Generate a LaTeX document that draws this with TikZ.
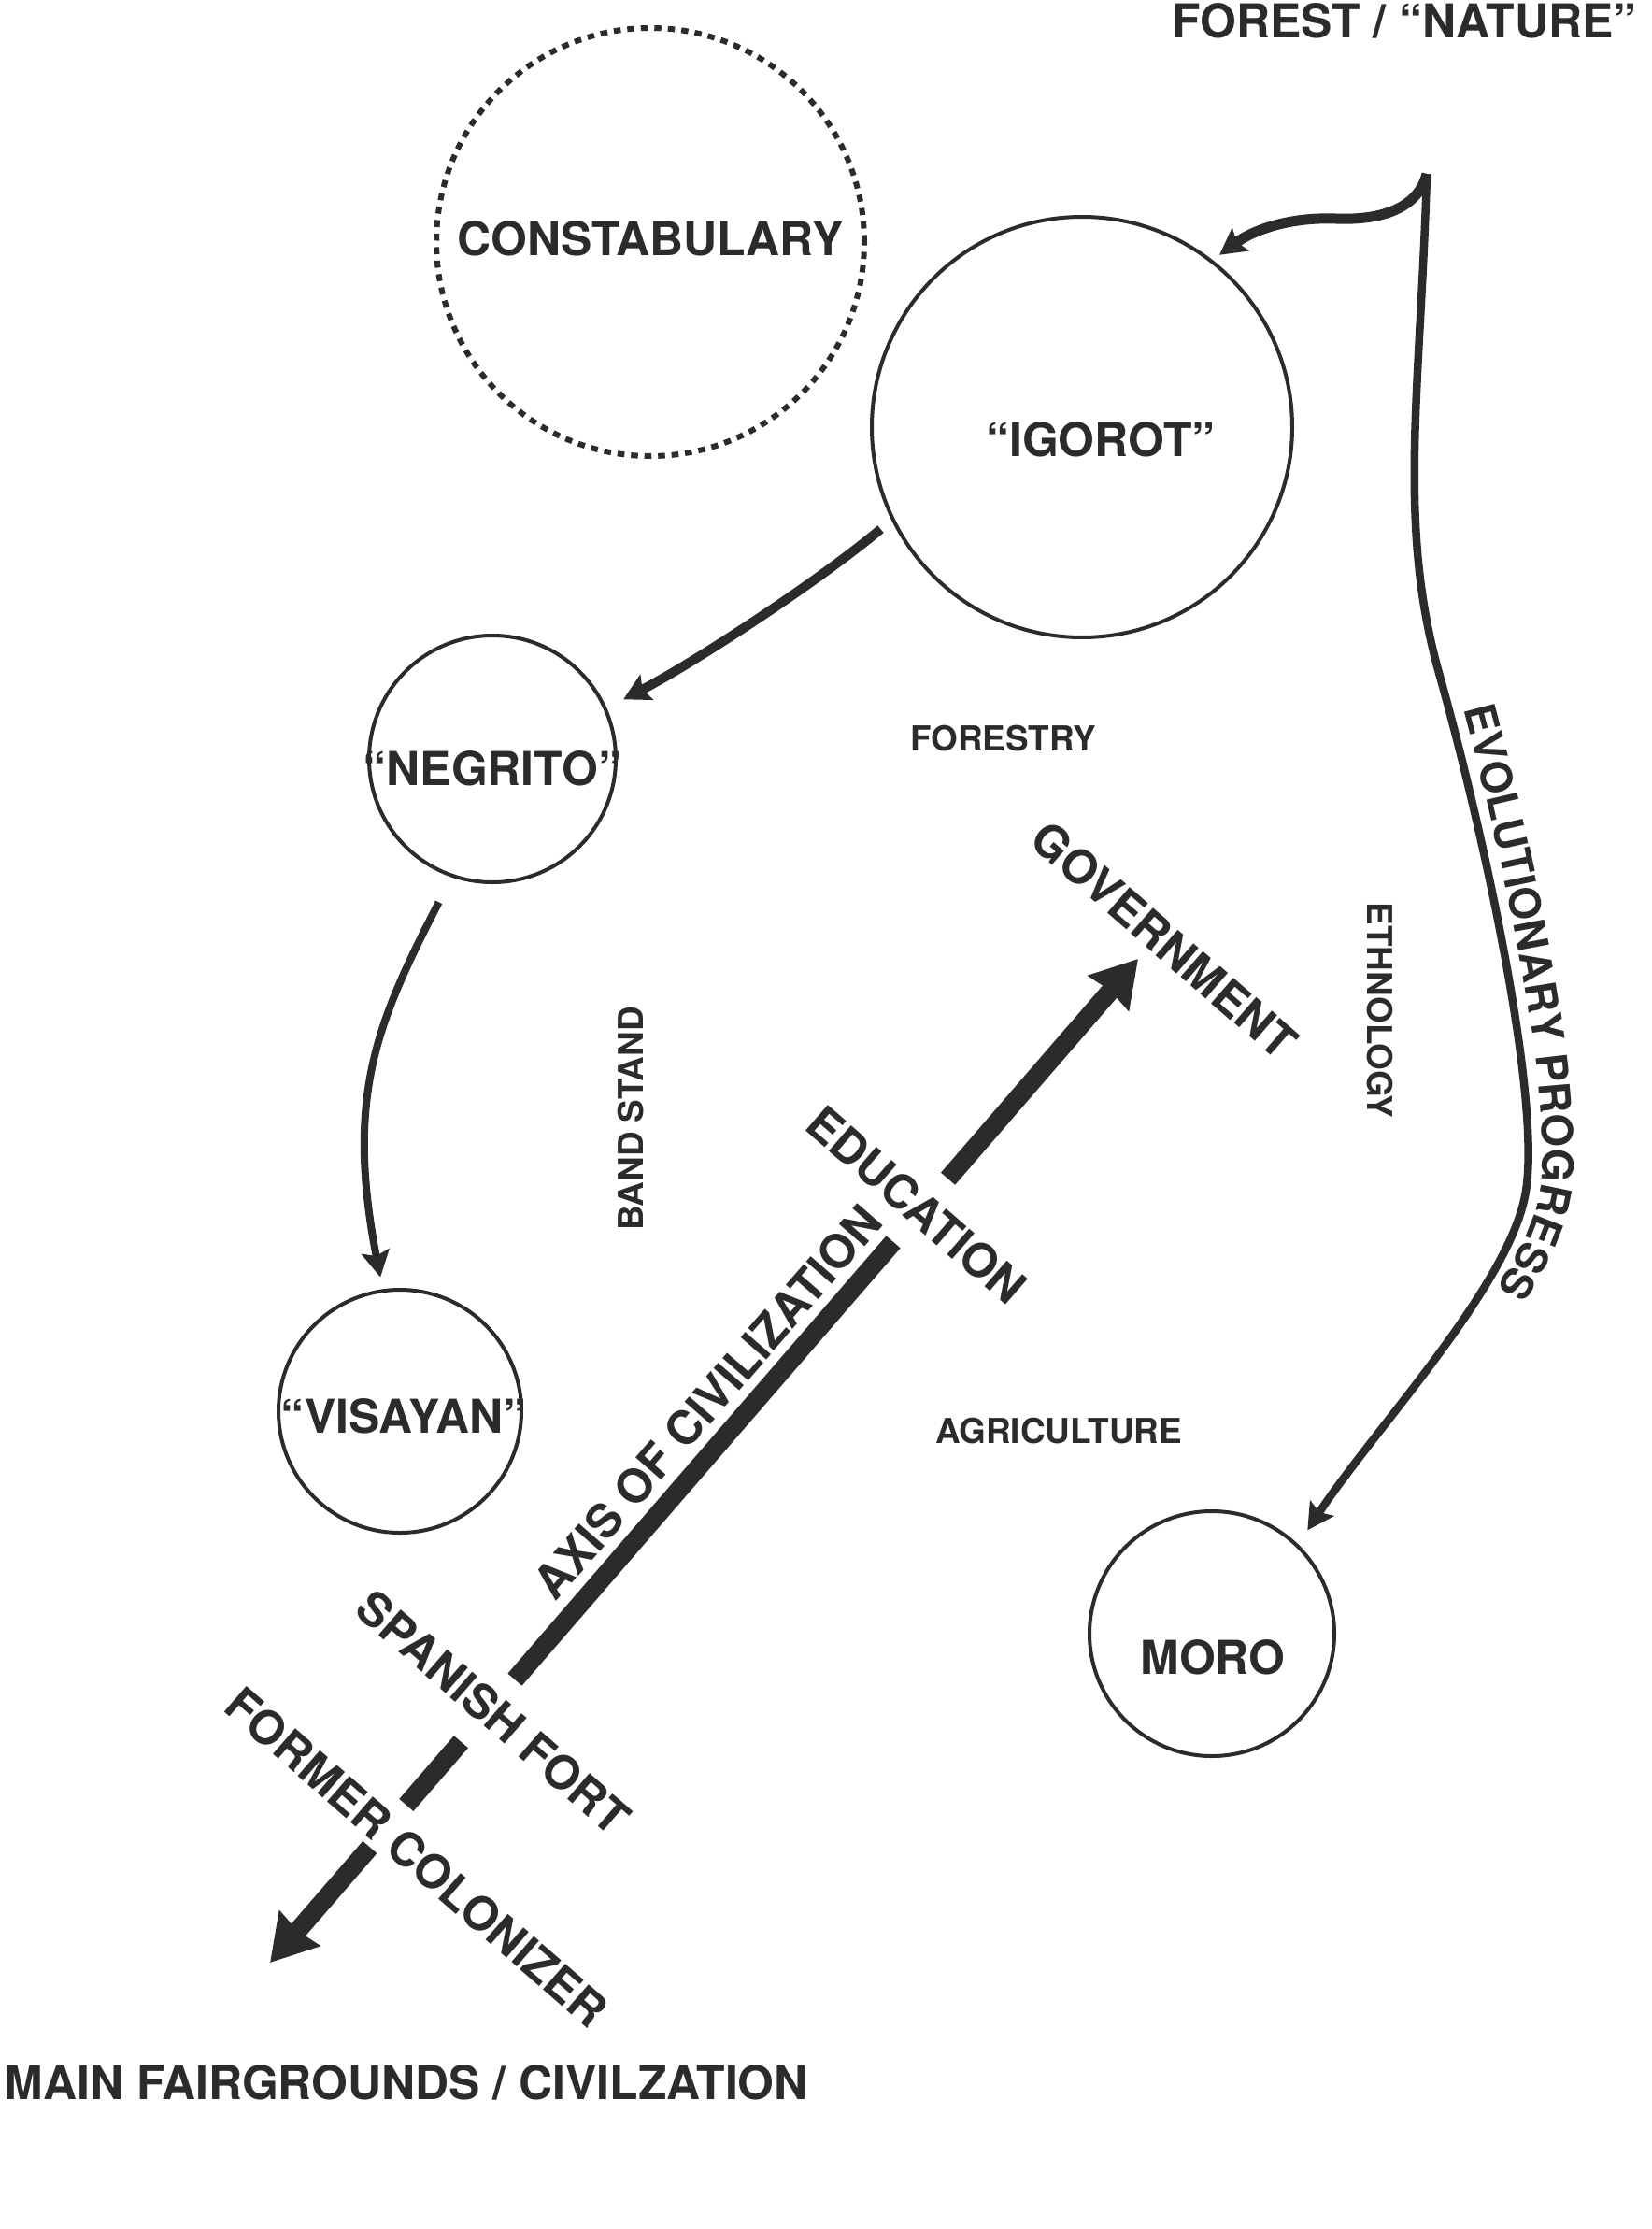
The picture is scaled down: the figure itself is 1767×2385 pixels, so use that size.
\documentclass[tikz,border=0pt]{standalone}
\usepackage{fontspec}
\setmainfont{TeX Gyre Heros}
\usetikzlibrary{arrows.meta,calc,decorations.text}
\definecolor{ink}{HTML}{2B2B2B}
\newcommand\hdfont{\bfseries\fontsize{14.2}{16}\selectfont}
\newcommand\evofont{\bfseries\fontsize{13.1}{15}\selectfont}
\newcommand\smfont{\bfseries\fontsize{10.5}{12}\selectfont}

\begin{document}
\begin{tikzpicture}[x=0.1mm, y=-0.1mm,
    circ/.style={circle, draw=ink, line width=0.4mm, inner sep=0pt},
    dotring/.style={circle, draw=ink, line width=0.6mm, dash pattern=on 0.75mm off 0.7mm, inner sep=0pt},
    lab/.style={text=ink, font=\hdfont, inner sep=0pt},
    sml/.style={text=ink, font=\smfont, inner sep=0pt},
    arrowed/.style={-{Stealth[length=2.8mm, width=3mm, inset=0.5mm]}},
    civline/.style={ink, line width=2mm},
    bigtip/.style={-{Stealth[length=4.8mm, width=5.6mm, inset=0.3mm]}}]
    \path[fill=white, use as bounding box] (0,0) rectangle (1767,2385);

    % Villages
    \node[dotring, minimum size=45.8mm] (const) at (696,259) {};
    \node[circ, minimum size=45mm] (igorot) at (1158,457) {};
    \node[circ, minimum size=26.4mm] (negrito) at (527,812) {};
    \node[circ, minimum size=26mm] (visayan) at (428,1510) {};
    \node[circ, minimum size=26.2mm] (moro) at (1297,1748) {};

    \node[lab] (constT) at (696,255) {CONSTABULARY};
    \node[lab] (igorotT) at (1178,470) {“IGOROT”};
    \node[lab] (negritoT) at (527,822) {“NEGRITO”};
    \node[lab] (visayanT) at (432,1515) {“VISAYAN”};
    \node[lab] (moroT) at (1298,1773) {MORO};

    % Ends of the grounds
    \node[lab, anchor=base east] (forest) at (1752,40) {FOREST / “NATURE”};
    \node[lab, anchor=base west] (fair) at (4,2246) {MAIN FAIRGROUNDS / CIVILZATION};

    % Buildings
    \node[sml] (forestry) at (1074,790) {FORESTRY};
    \node[sml] (agri) at (1133,1531) {AGRICULTURE};
    \node[sml, rotate=90] (band) at (675,1197) {BAND STAND};
    \node[sml, rotate=-90] (ethno) at (1477,1081) {ETHNOLOGY};

    % Axis of civilization
    \coordinate (c0) at (289,2100);
    \coordinate (c1) at (1218,1026);
    \foreach \i/\t in {1/0.115,2/0.157,3/0.220,4/0.282,5/0.718,6/0.781}
        \coordinate (a\i) at ($(c0)!\t!(c1)$);
    \draw[civline, bigtip] (a1) -- (c0);
    \draw[civline] (a2) -- (a3);
    \draw[civline] (a4) -- (a5);
    \draw[civline, bigtip] (a6) -- (c1);

    \node[lab, rotate=-41] (govt) at (1246,1006) {GOVERNMENT};
    \node[lab, rotate=-41] (edu) at (981,1289) {EDUCATION};
    \node[lab, rotate=49] (axisT) at (757,1500) {AXIS OF CIVILIZATION};
    \node[lab, rotate=-41] (spain) at (528,1832) {SPANISH FORT};
    \node[lab, rotate=-41] (former) at (446,1987) {FORMER COLONIZER};

    % Evolutionary progress
    \coordinate (nat) at (1527,186);
    \draw[ink, line width=1.1mm, arrowed, shorten >=0.9mm] (nat) .. controls (1518,222) and (1480,236) .. (1430,234)
        .. controls (1378,232) and (1340,247) .. (igorot.52);
    \draw[ink, line width=0.85mm, arrowed, shorten >=1.8mm] (nat) .. controls (1520,420) and (1495,560) .. (1540,720)
        .. controls (1585,880) and (1652,1180) .. (1632,1280)
        .. controls (1612,1380) and (1470,1530) .. (moro.46);
    \path[decorate, decoration={text along path, text={|\color{ink}\evofont|EVOLUTIONARY PROGRESS}, text align={left indent=4mm}}]
        (1556,720) .. controls (1601,880) and (1668,1180) .. (1647,1280)
        .. controls (1627,1380) and (1484,1530) .. (1403,1655);
    \draw[ink, line width=1mm, arrowed, shorten <=1.5mm, shorten >=2mm] (igorot.206) .. controls (876,622) and (743,709) .. (negrito.24);
    \draw[ink, line width=0.8mm, arrowed, shorten <=3mm, shorten >=1.3mm] (negrito.251) .. controls (404,1093) and (369,1172) .. (visayan.98);
\end{tikzpicture}
\end{document}
